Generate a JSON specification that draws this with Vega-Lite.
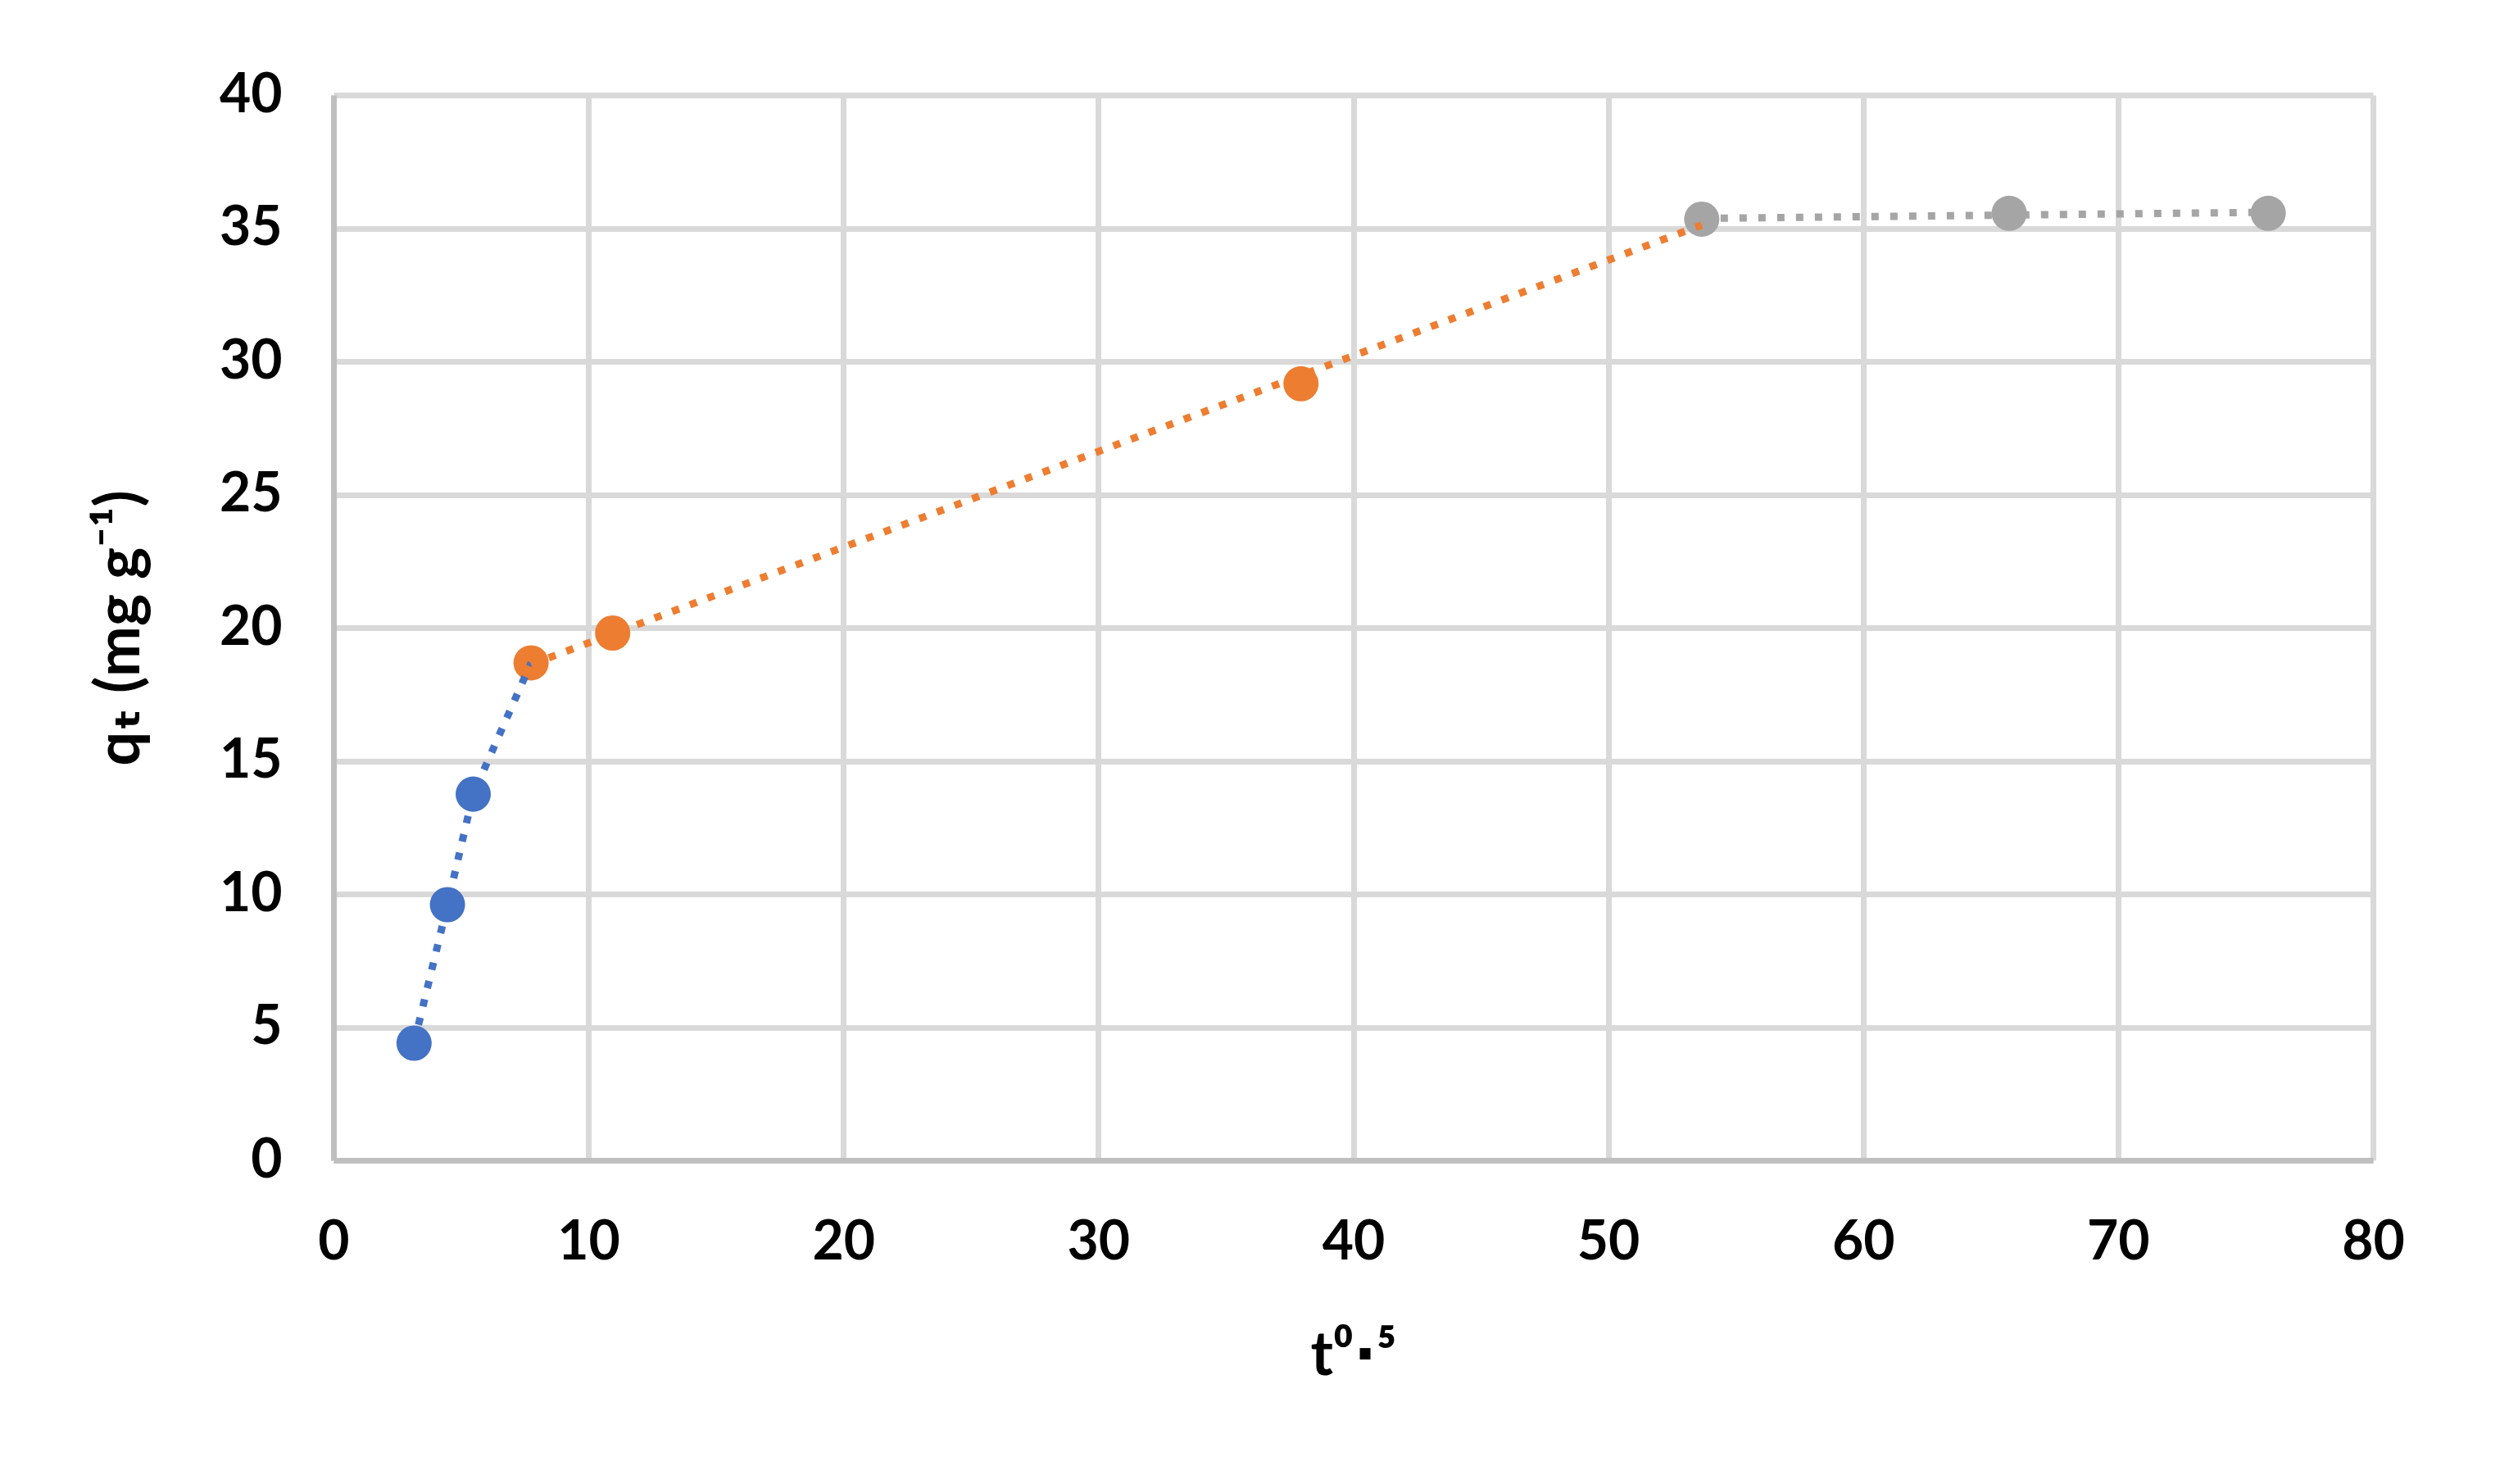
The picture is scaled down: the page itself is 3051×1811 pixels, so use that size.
{
  "$schema": "https://vega.github.io/schema/vega-lite/v6.json",
  "width": 2489,
  "height": 1300,
  "autosize": {"type": "none"},
  "padding": {"left": 407, "top": 116, "right": 155, "bottom": 395},
  "background": "white",
  "config": {"view": {"stroke": null}},
  "datasets": {
    "points": [
      {"x": 3.16, "y": 4.40, "series": "s1"},
      {"x": 4.47, "y": 9.60, "series": "s1"},
      {"x": 5.48, "y": 13.75, "series": "s1"},
      {"x": 7.75, "y": 18.68, "series": "s2"},
      {"x": 10.95, "y": 19.80, "series": "s2"},
      {"x": 37.95, "y": 29.16, "series": "s2"},
      {"x": 53.67, "y": 35.34, "series": "s3"},
      {"x": 65.73, "y": 35.56, "series": "s3"},
      {"x": 75.89, "y": 35.56, "series": "s3"}
    ],
    "lines": [
      {"x": 3.16, "y": 4.40, "series": "s1"},
      {"x": 4.47, "y": 9.60, "series": "s1"},
      {"x": 5.48, "y": 13.75, "series": "s1"},
      {"x": 7.75, "y": 18.68, "series": "s1"},
      {"x": 7.75, "y": 18.62, "series": "s2"},
      {"x": 53.67, "y": 35.12, "series": "s2"},
      {"x": 53.67, "y": 35.37, "series": "s3"},
      {"x": 75.89, "y": 35.60, "series": "s3"}
    ]
  },
  "layer": [
    {
      "data": {"name": "points"},
      "mark": {"type": "point", "filled": true, "shape": "circle", "size": 1850, "opacity": 1},
      "encoding": {
        "x": {
          "field": "x", "type": "quantitative", "title": "t⁰⋅⁵",
          "scale": {"domain": [0, 80], "nice": false, "zero": false},
          "axis": {
            "values": [0, 10, 20, 30, 40, 50, 60, 70, 80],
            "grid": true, "gridColor": "#d9d9d9", "gridWidth": 7,
            "domainColor": "#bfbfbf", "domainWidth": 7,
            "ticks": false, "tickSize": 0,
            "labelFont": "Lato", "labelFontSize": 66, "labelFontWeight": "bold", "labelColor": "#000000",
            "labelPadding": 68, "labelFlush": false,
            "titleFont": "Lato, DejaVu Sans", "titleFontSize": 74, "titleFontWeight": "bold", "titleColor": "#000000",
            "titlePadding": 70
          }
        },
        "y": {
          "field": "y", "type": "quantitative", "title": "qₜ (mg g⁻¹)",
          "scale": {"domain": [0, 40], "nice": false, "zero": false},
          "axis": {
            "values": [0, 5, 10, 15, 20, 25, 30, 35, 40],
            "grid": true, "gridColor": "#d9d9d9", "gridWidth": 7,
            "domainColor": "#bfbfbf", "domainWidth": 7,
            "ticks": false, "tickSize": 0,
            "labelFont": "Lato", "labelFontSize": 66, "labelFontWeight": "bold", "labelColor": "#000000",
            "labelPadding": 63, "labelBaseline": "middle", "labelFlush": false,
            "titleFont": "Lato, DejaVu Sans", "titleFontSize": 74, "titleFontWeight": "bold", "titleColor": "#000000",
            "titlePadding": 82
          }
        },
        "color": {
          "field": "series", "type": "nominal",
          "scale": {"domain": ["s1", "s2", "s3"], "range": ["#4472C4", "#ED7D31", "#A5A5A5"]},
          "legend": null
        }
      }
    },
    {
      "data": {"name": "lines"},
      "mark": {"type": "line", "strokeWidth": 9, "strokeDash": [9, 14]},
      "encoding": {
        "x": {"field": "x", "type": "quantitative", "title": "t⁰⋅⁵"},
        "y": {"field": "y", "type": "quantitative", "title": "qₜ (mg g⁻¹)"},
        "color": {"field": "series", "type": "nominal", "legend": null}
      }
    }
  ]
}
